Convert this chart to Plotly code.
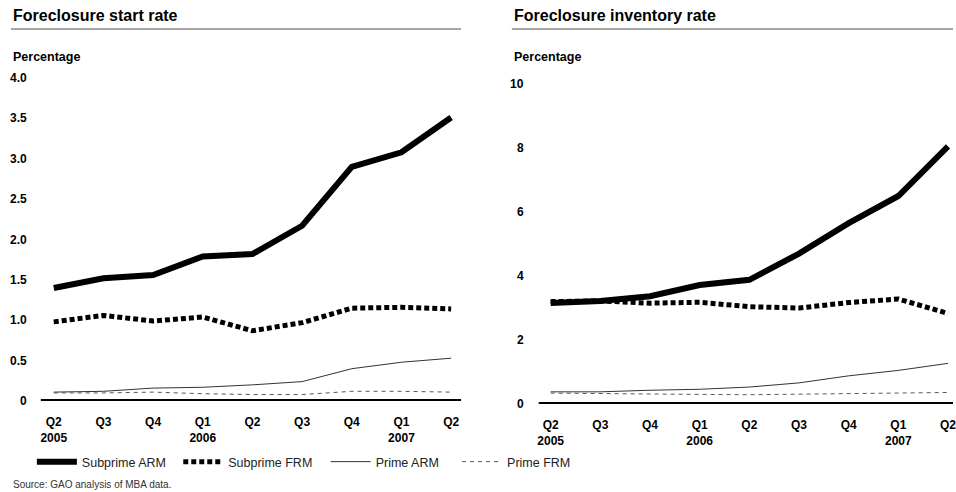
import plotly.graph_objects as go

QUARTERS = ["Q2<br>2005", "Q3", "Q4", "Q1<br>2006", "Q2", "Q3", "Q4", "Q1<br>2007", "Q2"]

# foreclosure start rate (%)
start_subprime_arm = [1.40, 1.52, 1.56, 1.79, 1.82, 2.17, 2.90, 3.08, 3.51]
start_subprime_frm = [0.98, 1.06, 0.99, 1.04, 0.87, 0.97, 1.15, 1.16, 1.14]
start_prime_arm    = [0.11, 0.12, 0.16, 0.17, 0.20, 0.24, 0.40, 0.48, 0.53]
start_prime_frm    = [0.10, 0.10, 0.11, 0.09, 0.08, 0.08, 0.12, 0.12, 0.11]

# foreclosure inventory rate (%)
inv_subprime_arm = [3.16, 3.22, 3.37, 3.72, 3.88, 4.70, 5.65, 6.50, 8.05]
inv_subprime_frm = [3.20, 3.22, 3.15, 3.18, 3.04, 3.00, 3.17, 3.28, 2.83]
inv_prime_arm    = [0.38, 0.38, 0.43, 0.46, 0.53, 0.66, 0.88, 1.05, 1.27]
inv_prime_frm    = [0.34, 0.32, 0.31, 0.30, 0.29, 0.31, 0.33, 0.33, 0.36]

START_TICKS = [0, 0.5, 1.0, 1.5, 2.0, 2.5, 3.0, 3.5, 4.0]
START_TICKTEXT = ["0", "0.5", "1.0", "1.5", "2.0", "2.5", "3.0", "3.5", "4.0"]
INV_TICKS = [0, 2, 4, 6, 8, 10]
INV_TICKTEXT = ["0", "2", "4", "6", "8", "10"]

W, H = 956, 492
FONT = "Liberation Sans, Arial, Helvetica, sans-serif"

STYLES = [
    ("Subprime ARM", dict(color="black", width=6)),
    ("Subprime FRM", dict(color="black", width=5, dash="5px,3px")),
    ("Prime ARM",    dict(color="#333333", width=1)),
    ("Prime FRM",    dict(color="#555555", width=1, dash="4px,4px")),
]
LEGEND_X = [31, 178, 326, 458]


def px(x):
    return x / W


def py(y):
    return 1 - y / H


fig = go.Figure()
xs = list(range(len(QUARTERS)))

legend_ids = ["legend", "legend2", "legend3", "legend4"]
for (name, line), ys, lg in zip(STYLES, [start_subprime_arm, start_subprime_frm,
                                         start_prime_arm, start_prime_frm], legend_ids):
    fig.add_trace(go.Scatter(x=xs, y=ys, name=name, mode="lines", line=line,
                             xaxis="x", yaxis="y", showlegend=True, legend=lg))

for (name, line), ys in zip(STYLES, [inv_subprime_arm, inv_subprime_frm,
                                     inv_prime_arm, inv_prime_frm]):
    fig.add_trace(go.Scatter(x=xs, y=ys, name=name, mode="lines", line=line,
                             xaxis="x2", yaxis="y2", showlegend=False))

xax = dict(tickvals=xs, ticktext=[f"<b>{q}</b>" for q in QUARTERS],
           showgrid=False, zeroline=False, showline=False, ticks="",
           tickfont=dict(size=12, color="black", family=FONT),
           ticklabelstandoff=12, ticklabeloverflow="allow", fixedrange=True)

legends = {}
for lg, lx in zip(legend_ids, LEGEND_X):
    legends[lg] = dict(orientation="h", x=px(lx), y=py(462), xanchor="left", yanchor="middle",
                       font=dict(size=12.5, color="#222", family=FONT),
                       bgcolor="rgba(0,0,0,0)", itemwidth=40)

fig.update_layout(
    width=W, height=H,
    margin=dict(l=0, r=0, t=0, b=0),
    plot_bgcolor="white", paper_bgcolor="white",
    font=dict(family=FONT, color="black"),
    xaxis=dict(xax, domain=[px(40), px(462)], range=[-0.26, 8.2]),
    xaxis2=dict(xax, domain=[px(540), 1.0], range=[-0.24, 8.1], anchor="y2"),
    yaxis=dict(domain=[py(401), py(78)], range=[0, 4.0], showticklabels=False,
               showgrid=False, zeroline=False, showline=False, fixedrange=True),
    yaxis2=dict(domain=[py(404), py(84)], range=[0, 10], showticklabels=False,
                showgrid=False, zeroline=False, showline=False, anchor="x2", fixedrange=True),
    showlegend=True,
    **legends,
)

# baselines at zero
for xr, yr in [("x domain", "y"), ("x2 domain", "y2")]:
    fig.add_shape(type="line", xref=xr, yref=yr, x0=0, x1=1, y0=0, y1=0,
                  line=dict(color="black", width=4))

# title rules
fig.add_shape(type="line", xref="paper", yref="paper", x0=px(10), x1=px(462),
              y0=py(29), y1=py(29), line=dict(color="#888888", width=1.5))
fig.add_shape(type="line", xref="paper", yref="paper", x0=px(513), x1=1.0,
              y0=py(29), y1=py(29), line=dict(color="#888888", width=1.5))

ann = []
for x0, title in [(10, "Foreclosure start rate"), (513, "Foreclosure inventory rate")]:
    ann.append(dict(text=f"<b>{title}</b>", x=px(x0), y=py(15), xref="paper", yref="paper",
                    xanchor="left", yanchor="middle", showarrow=False,
                    font=dict(size=16, color="black", family=FONT)))
    ann.append(dict(text="<b>Percentage</b>", x=px(x0), y=py(57), xref="paper", yref="paper",
                    xanchor="left", yanchor="middle", showarrow=False,
                    font=dict(size=12.5, color="black", family=FONT)))

for vals, texts, yref, xr in [(START_TICKS, START_TICKTEXT, "y", 28),
                              (INV_TICKS, INV_TICKTEXT, "y2", 527)]:
    for v, t in zip(vals, texts):
        ann.append(dict(text=f"<b>{t}</b>", x=px(xr), y=v, xref="paper", yref=yref,
                        xanchor="right", yanchor="middle", showarrow=False,
                        font=dict(size=12, color="black", family=FONT)))

ann.append(dict(text="Source: GAO analysis of MBA data.", x=px(10), y=py(484),
                xref="paper", yref="paper", xanchor="left", yanchor="middle",
                showarrow=False, font=dict(size=10, color="#333", family=FONT)))

fig.update_layout(annotations=ann)
fig.write_html("out.html", config={"displayModeBar": False},
               post_script="document.body.style.margin='0';document.body.style.overflow='hidden';")
